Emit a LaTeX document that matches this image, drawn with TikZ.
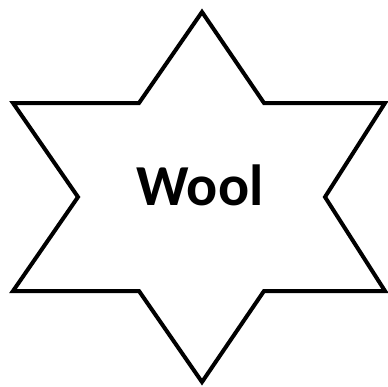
\documentclass[tikz,border=0pt]{standalone}
\usepackage{fontspec}
\setmainfont{Carlito}
\begin{document}
\begin{tikzpicture}[x=1pt,y=-1pt,
  starline/.style={draw=black,line width=4pt,line join=miter,fill=white},
  label/.style={font=\bfseries\fontsize{58}{60}\selectfont,inner sep=0pt,anchor=base}]
\useasboundingbox (0,0) rectangle (388,386);
\path[starline] (202,12) -- (264,103) -- (385,103) -- (325,197) -- (385,291) -- (264,291)
  -- (202,382) -- (139,291) -- (13,291) -- (78,197) -- (13,103) -- (139,103) -- cycle;
\node[label] (w) at (200,205) {Wool};
\end{tikzpicture}
\end{document}
